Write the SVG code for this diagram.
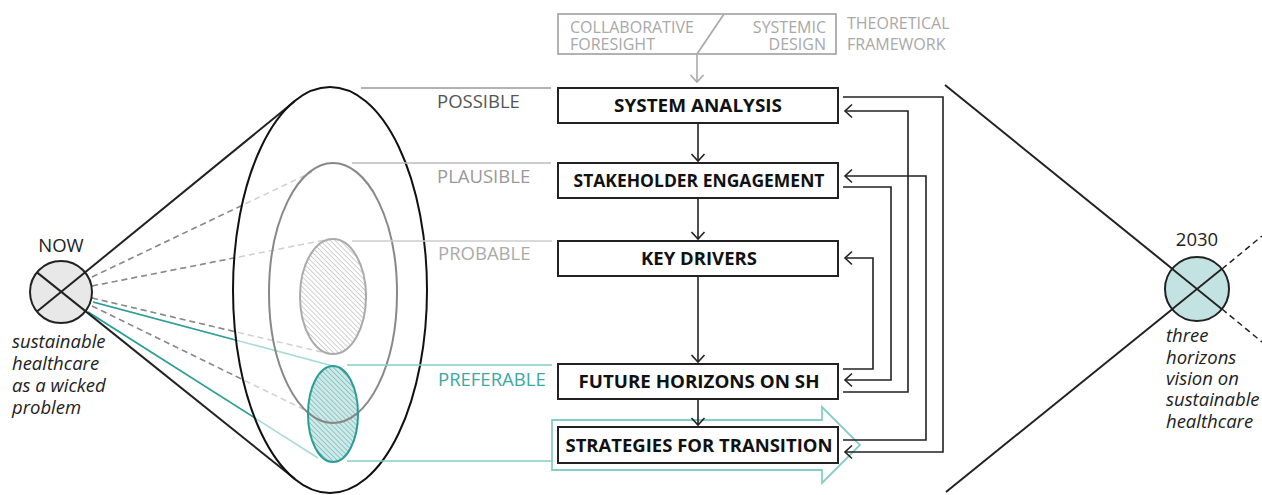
<svg xmlns="http://www.w3.org/2000/svg" width="1262" height="495" viewBox="0 0 1262 495">
<style>
text{font-family:"Open Sans","Liberation Sans",sans-serif}
.box{fill:#fff;stroke:#222;stroke-width:2}
.bl{font-size:18.5px;font-weight:700;fill:#111;text-anchor:middle}
.fw{font-size:16px;fill:#a8a8a8}
.lab{font-size:18.5px}
.it{font-size:18.5px;font-style:italic;fill:#222}
.con{fill:none;stroke:#222;stroke-width:1.6}
.dd{stroke:#888;stroke-width:1.5;stroke-dasharray:6 4;fill:none}
.dl{stroke:#d0d0d0;stroke-width:1.5;stroke-dasharray:6 4;fill:none}
.td{stroke:#2a9d98;stroke-width:1.6;fill:none}
.tl{stroke:#a8dad7;stroke-width:1.6;fill:none}
</style>
<defs>
<marker id="ah" markerUnits="userSpaceOnUse" markerWidth="14" markerHeight="16" refX="12" refY="8" orient="auto">
<path d="M5,1.5 L12,8 L5,14.5" fill="none" stroke="#222" stroke-width="1.6"/>
</marker>
<marker id="ahg" markerUnits="userSpaceOnUse" markerWidth="14" markerHeight="16" refX="12" refY="8" orient="auto">
<path d="M5,1.5 L12,8 L5,14.5" fill="none" stroke="#a8a8a8" stroke-width="1.6"/>
</marker>
<pattern id="hg" patternUnits="userSpaceOnUse" width="3.5" height="3.5" patternTransform="rotate(-45)">
<rect width="3.5" height="3.5" fill="#fff"/>
<line x1="0" y1="0" x2="0" y2="3.5" stroke="#a0a0a0" stroke-width="1"/>
</pattern>
<pattern id="ht" patternUnits="userSpaceOnUse" width="3.5" height="3.5" patternTransform="rotate(-45)">
<rect width="3.5" height="3.5" fill="#cfe9e8"/>
<line x1="0" y1="0" x2="0" y2="3.5" stroke="#3a9f9b" stroke-width="0.9"/>
</pattern>
<clipPath id="outside">
<path clip-rule="evenodd" d="M0,0 H1262 V495 H0 Z M233,290 a97,203 0 1,0 194,0 a97,203 0 1,0 -194,0 Z"/>
</clipPath>
</defs>

<g id="sight-lines">
<line class="dl" x1="92" y1="277" x2="312" y2="172"/>
<line class="dl" x1="92" y1="286" x2="330" y2="239"/>
<line class="dl" x1="92" y1="298" x2="330" y2="354"/>
<line class="dl" x1="92" y1="306" x2="305" y2="410"/>
<line class="tl" x1="93" y1="302" x2="333" y2="366"/>
<line class="tl" x1="88" y1="312" x2="318" y2="458"/>
<g clip-path="url(#outside)">
<line class="dd" x1="92" y1="277" x2="312" y2="172"/>
<line class="dd" x1="92" y1="286" x2="330" y2="239"/>
<line class="dd" x1="92" y1="298" x2="330" y2="354"/>
<line class="dd" x1="92" y1="306" x2="305" y2="410"/>
<line class="td" x1="93" y1="302" x2="333" y2="366"/>
<line class="td" x1="88" y1="312" x2="318" y2="458"/>
</g>
</g>

<g id="now">
<circle cx="61" cy="292" r="31" fill="#e8e8e8" stroke="#222" stroke-width="2"/>
<line x1="37" y1="311.6" x2="295" y2="101" stroke="#222" stroke-width="2"/>
<line x1="37" y1="272.4" x2="295" y2="479" stroke="#222" stroke-width="2"/>
<text x="61" y="252" text-anchor="middle" class="lab" fill="#222">NOW</text>
<text class="it" x="12"><tspan x="12" y="348">sustainable</tspan><tspan x="12" y="370">healthcare</tspan><tspan x="12" y="392">as a wicked</tspan><tspan x="12" y="414">problem</tspan></text>
</g>

<g id="futures-cone">
<ellipse cx="330" cy="290" rx="97" ry="203" fill="none" stroke="#111" stroke-width="2"/>
<ellipse cx="333" cy="414" rx="25" ry="48" fill="url(#ht)"/>
<ellipse cx="333" cy="293" rx="64" ry="130" fill="none" stroke="#888" stroke-width="2"/>
<ellipse cx="333" cy="296.5" rx="33" ry="57.5" fill="url(#hg)" stroke="#aaa" stroke-width="2"/>
<ellipse cx="333" cy="414" rx="25" ry="48" fill="none" stroke="#2a9d98" stroke-width="2"/>
</g>

<g id="future-labels">
<line x1="361" y1="88" x2="551" y2="88" stroke="#999" stroke-width="1.6"/>
<text x="437" y="108" class="lab" fill="#555">POSSIBLE</text>
<line x1="352" y1="163" x2="551" y2="163" stroke="#bbb" stroke-width="1.6"/>
<text x="437" y="183" class="lab" fill="#999">PLAUSIBLE</text>
<line x1="352" y1="241" x2="552" y2="241" stroke="#ccc" stroke-width="1.6"/>
<text x="438" y="260" class="lab" fill="#aaa">PROBABLE</text>
<line x1="347" y1="365" x2="552" y2="365" stroke="#86cdc9" stroke-width="1.6"/>
<text x="438" y="386" class="lab" fill="#3aa9a4">PREFERABLE</text>
<line x1="347" y1="461" x2="552" y2="461" stroke="#86cdc9" stroke-width="1.6"/>
</g>

<g id="transition-arrow">
<path d="M552,420 H822 V407 L860,445 L822,483 V470 H552 Z" fill="none" stroke="#86cdc9" stroke-width="1.8"/>
</g>

<g id="framework">
<rect x="558" y="14" width="278" height="40" fill="none" stroke="#aaa" stroke-width="1.8"/>
<line x1="724" y1="14" x2="697" y2="54" stroke="#aaa" stroke-width="1.8"/>
<text class="fw"><tspan x="570" y="33">COLLABORATIVE</tspan><tspan x="570" y="50">FORESIGHT</tspan></text>
<text class="fw" text-anchor="end"><tspan x="826" y="33">SYSTEMIC</tspan><tspan x="826" y="50">DESIGN</tspan></text>
<text class="fw" font-size="18.5"><tspan x="847" y="29">THEORETICAL</tspan><tspan x="847" y="50">FRAMEWORK</tspan></text>
</g>

<g id="connectors">
<line x1="697" y1="54" x2="697" y2="82" stroke="#aaa" stroke-width="1.6" marker-end="url(#ahg)"/>
<line class="con" x1="698" y1="123" x2="698" y2="161" marker-end="url(#ah)"/>
<line class="con" x1="698" y1="198" x2="698" y2="239" marker-end="url(#ah)"/>
<line class="con" x1="698" y1="276" x2="698" y2="362" marker-end="url(#ah)"/>
<line class="con" x1="698" y1="399" x2="698" y2="425" marker-end="url(#ah)"/>
<path class="con" d="M843,97 H943 V452 H845" marker-end="url(#ah)"/>
<path class="con" d="M843,392 H908 V111 H845" marker-end="url(#ah)"/>
<path class="con" d="M843,440 H926 V176 H845" marker-end="url(#ah)"/>
<path class="con" d="M843,187 H891 V380 H845" marker-end="url(#ah)"/>
<path class="con" d="M843,369 H873 V258 H845" marker-end="url(#ah)"/>
</g>

<g id="system-analysis"><rect class="box" x="558" y="88" width="280" height="35"/><text class="bl" x="698" y="112" textLength="168" lengthAdjust="spacingAndGlyphs">SYSTEM ANALYSIS</text></g>
<g id="stakeholder-engagement"><rect class="box" x="558" y="163" width="280" height="35"/><text class="bl" x="699" y="187" textLength="251" lengthAdjust="spacingAndGlyphs">STAKEHOLDER ENGAGEMENT</text></g>
<g id="key-drivers"><rect class="box" x="558" y="241" width="280" height="35"/><text class="bl" x="699" y="265">KEY DRIVERS</text></g>
<g id="future-horizons"><rect class="box" x="558" y="364" width="280" height="35"/><text class="bl" x="699" y="388" textLength="241" lengthAdjust="spacingAndGlyphs">FUTURE HORIZONS ON SH</text></g>
<g id="strategies"><rect class="box" x="558" y="427" width="280" height="36"/><text class="bl" x="699" y="452" textLength="267" lengthAdjust="spacingAndGlyphs">STRATEGIES FOR TRANSITION</text></g>

<g id="y2030">
<line x1="945" y1="85" x2="1222" y2="309" stroke="#222" stroke-width="2"/>
<line x1="946" y1="492" x2="1222" y2="269" stroke="#222" stroke-width="2"/>
<circle cx="1197" cy="289" r="32" fill="#c3e3e2" stroke="#222" stroke-width="2"/>
<line x1="1172" y1="268.7" x2="1222" y2="309.3" stroke="#222" stroke-width="1.8"/>
<line x1="1172" y1="309.3" x2="1222" y2="268.7" stroke="#222" stroke-width="1.8"/>
<line x1="1222" y1="309" x2="1262" y2="342" stroke="#222" stroke-width="1.5" stroke-dasharray="6 4"/>
<line x1="1222" y1="269" x2="1262" y2="236" stroke="#222" stroke-width="1.5" stroke-dasharray="6 4"/>
<text x="1197" y="246" text-anchor="middle" class="lab" fill="#222">2030</text>
<text class="it"><tspan x="1166" y="342">three</tspan><tspan x="1166" y="364">horizons</tspan><tspan x="1166" y="385">vision on</tspan><tspan x="1166" y="406">sustainable</tspan><tspan x="1166" y="428">healthcare</tspan></text>
</g>
</svg>
